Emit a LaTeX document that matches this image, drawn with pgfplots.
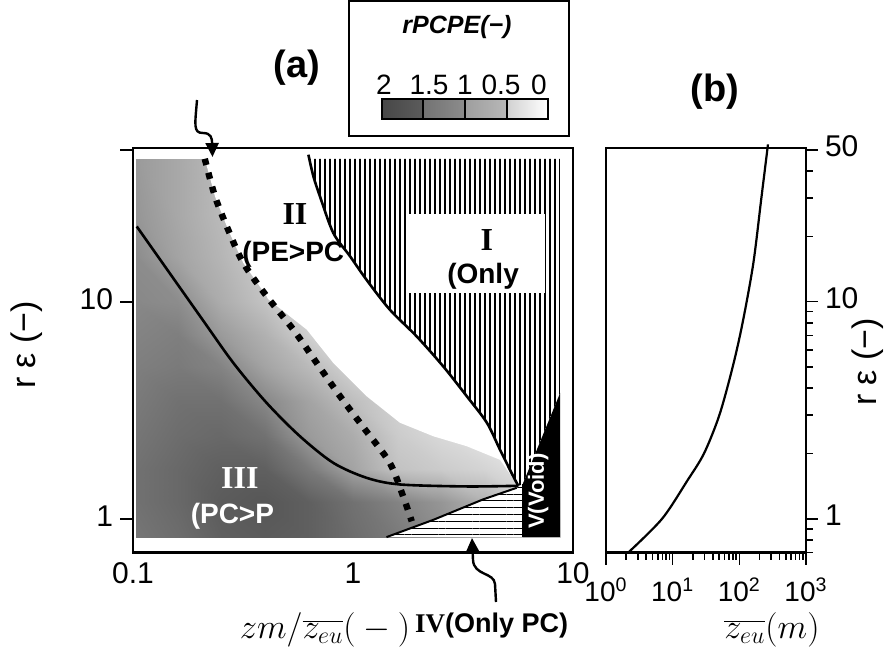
\documentclass[border=0pt]{standalone}
\usepackage{fontspec}
\setmainfont{Liberation Sans}
\newfontfamily\serifrm{Liberation Serif}
\usepackage{pgfplots}
\usepackage{pgfplotstable}
\pgfplotsset{compat=1.18}
\usetikzlibrary{patterns.meta,arrows.meta}

% rPCPE field (x, y, value)
\pgfplotstableread{
x y v
0.103 0.824 1.55
0.16 0.824 1.65
0.25 0.824 1.8
0.4 0.824 1.85
0.63 0.824 1.8
1 0.824 1.65
1.6 0.824 1.5
2.5 0.824 1.3
4 0.824 1.0
6 0.824 0.7
8.74 0.824 0.5
0.103 1.2 1.6
0.16 1.2 1.7
0.25 1.2 1.85
0.4 1.2 1.9
0.63 1.2 1.8
1 1.2 1.6
1.6 1.2 1.4
2.5 1.2 1.2
4 1.2 0.9
6 1.2 0.6
8.74 1.2 0.4
0.103 1.7 1.6
0.16 1.7 1.7
0.25 1.7 1.8
0.4 1.7 1.8
0.63 1.7 1.5
1 1.7 1.05
1.6 1.7 0.7
2.5 1.7 0.6
4 1.7 0.5
6 1.7 0.35
8.74 1.7 0.2
0.103 2.4 1.55
0.16 2.4 1.65
0.25 2.4 1.7
0.4 2.4 1.6
0.63 2.4 1.15
1 2.4 0.95
1.6 2.4 0.6
2.5 2.4 0.45
4 2.4 0.3
6 2.4 0.1
8.74 2.4 0
0.103 3.5 1.5
0.16 3.5 1.6
0.25 3.5 1.6
0.4 3.5 1.35
0.63 3.5 1.05
1 3.5 0.75
1.6 3.5 0.5
2.5 3.5 0.3
4 3.5 0.1
6 3.5 0
8.74 3.5 0
0.103 5 1.45
0.16 5 1.5
0.25 5 1.4
0.4 5 1.05
0.63 5 0.8
1 5 0.5
1.6 5 0.3
2.5 5 0
4 5 0
6 5 0
8.74 5 0
0.103 7 1.4
0.16 7 1.45
0.25 7 1.15
0.4 7 0.9
0.63 7 0.55
1 7 0.3
1.6 7 0
2.5 7 0
4 7 0
6 7 0
8.74 7 0
0.103 10 1.35
0.16 10 1.3
0.25 10 0.95
0.4 10 0.7
0.63 10 0.5
1 10 0.3
1.6 10 0
2.5 10 0
4 10 0
6 10 0
8.74 10 0
0.103 16 1.3
0.16 16 1.05
0.25 16 0.85
0.4 16 0.6
0.63 16 0.4
1 16 0.2
1.6 16 0
2.5 16 0
4 16 0
6 16 0
8.74 16 0
0.103 25 1.2
0.16 25 1.0
0.25 25 0.8
0.4 25 0.6
0.63 25 0.4
1 25 0.2
1.6 25 0
2.5 25 0
4 25 0
6 25 0
8.74 25 0
0.103 45.5 1.15
0.16 45.5 1.0
0.25 45.5 0.8
0.4 45.5 0.6
0.63 45.5 0.4
1 45.5 0.2
1.6 45.5 0
2.5 45.5 0
4 45.5 0
6 45.5 0
8.74 45.5 0
}\fieldtbl

\newcommand\lab{\bfseries\fontsize{14}{14}\selectfont}
\newcommand\romlab{\serifrm\bfseries\fontsize{16}{16}\selectfont}

\begin{document}
\begin{tikzpicture}
\path[use as bounding box] (0,0) rectangle (444pt,-332pt);

% ---------- panel (a) ----------
\begin{axis}[
    at={(66.5pt,-276.25pt)}, anchor=south west, scale only axis,
    width=220pt, height=202.25pt,
    xmode=log, ymode=log,
    xmin=0.1, xmax=10, ymin=0.70, ymax=51,
    xminorticks=false, yminorticks=false,
    xtick={0.1,1,10}, xticklabels={0.1,1,10},
    ytick={1,10,50}, yticklabels={1,10,{}},
    tick pos=left, tick align=outside,
    major tick length=6.5pt,
    xtick style={draw=none},
    ytick style={line width=1pt, black},
    axis line style={line width=1.1pt},
    tick label style={font=\fontsize{15}{15}\selectfont},
    xticklabel style={yshift=5pt},
    yticklabel style={yshift=1.5pt},
    colormap={rp}{rgb255=(255,255,255) rgb255=(212,212,212) rgb255=(168,168,168) rgb255=(122,122,122) rgb255=(78,78,78)},
    point meta min=0, point meta max=2,
    axis on top,
]
\addplot[surf, shader=interp, mesh/cols=11, point meta=explicit]
    table[x=x, y=y, meta=v] \fieldtbl;

% region II, white part
\addplot[draw=none, fill=white] coordinates {
    (0.212,45.5) (0.236,30.5) (0.271,21.4) (0.317,15.1) (0.405,10.6) (0.41,10.3)
    (0.617,7.43) (0.814,5.22) (1.153,3.67) (1.635,2.77) (2.32,2.40) (3.29,2.16)
    (4.66,1.87) (5.64,1.42) (5.35,1.57) (4.66,2.08) (4.06,2.77) (3.29,3.67)
    (2.57,5.04) (1.948,6.92) (1.47,9.19) (1.153,12.6) (0.969,16.2) (0.814,20.7)
    (0.708,30.5) (0.661,37.7) (0.633,45.5)
};
% region I (only PE), vertical hatching
\addplot[draw=none, fill=white,
    postaction={pattern={Lines[angle=90,distance=2.5pt,line width=0.6pt]}}] coordinates {
    (0.633,45.5) (0.661,37.7) (0.708,30.5) (0.814,20.7) (0.969,16.2) (1.153,12.6)
    (1.47,9.19) (1.948,6.92) (2.57,5.04) (3.29,3.67) (4.06,2.77) (4.66,2.08)
    (5.35,1.57) (5.64,1.42) (5.9,1.44) (8.74,3.8) (8.74,45.5)
};
% region IV (only PC), horizontal hatching
\addplot[draw=none, fill=white,
    postaction={pattern={Lines[angle=0,distance=3.4pt,line width=0.5pt]}}] coordinates {
    (1.42,0.824) (2.32,0.99) (3.91,1.23) (5.55,1.39) (5.9,1.44) (5.9,0.824)
};
% region V (void)
\addplot[draw=none, fill=black] coordinates {
    (5.9,1.44) (8.74,3.8) (8.74,0.824) (5.9,0.824)
};
% label box in region I
\addplot[draw=none, fill=white] coordinates {
    (1.75,10.96) (7.46,10.96) (7.46,25.2) (1.75,25.2)
};

% boundaries
\addplot[line width=1pt] coordinates {(1.42,0.824) (2.32,0.99) (3.91,1.23) (5.55,1.39)};
\addplot[line width=1pt] coordinates {(5.9,0.824) (5.9,1.44)};
\addplot[line width=1.3pt, smooth] coordinates {
    (0.104,22.2) (0.202,8.56) (0.286,5.22) (0.405,3.42) (0.574,2.40) (0.814,1.81)
    (1.153,1.545) (1.635,1.44) (3.29,1.41) (5.64,1.42)
};
\addplot[line width=1.3pt, smooth] coordinates {
    (0.627,47.5) (0.661,37.7) (0.708,30.5) (0.814,20.7) (0.969,16.2) (1.153,12.6)
    (1.47,9.19) (1.948,6.92) (2.57,5.04) (3.29,3.67) (4.06,2.77) (4.66,2.08)
    (5.35,1.57) (5.64,1.42)
};
\addplot[line width=3.2pt, smooth, dash pattern=on 3.2pt off 4pt] coordinates {
    (0.212,45.5) (0.236,30.5) (0.271,21.4) (0.317,15.1) (0.405,10.6) (0.536,7.43)
    (0.684,5.22) (0.873,3.67) (1.134,2.58) (1.47,1.81) (1.69,1.27) (1.85,0.975)
};

\node[font=\romlab] at (axis cs:0.545,25.2) {II};
\node[font=\lab] at (axis cs:0.535,16.5) {(PE>PC};
\node[font=\romlab] at (axis cs:4.06,19.3) {I};
\node[font=\lab] at (axis cs:3.9,13.1) {(Only};
\node[font=\romlab, white] at (axis cs:0.306,1.545) {III};
\node[font=\lab, white] at (axis cs:0.283,1.03) {(PC>P};
\node[font=\bfseries\fontsize{11}{11}\selectfont, white, rotate=90] at (axis cs:6.95,1.34) {V(Void)};
\end{axis}

% ---------- panel (b) ----------
\begin{axis}[
    at={(303pt,-276.25pt)}, anchor=south west, scale only axis,
    width=100pt, height=202.25pt,
    xmode=log, ymode=log,
    xmin=1, xmax=1000, ymin=0.70, ymax=51,
    xtick={1,10,100,1000},
    xticklabels={10\textsuperscript{0},10\textsuperscript{1},10\textsuperscript{2},10\textsuperscript{3}},
    minor xtick={2,3,...,9,20,30,...,90,200,300,...,900},
    ytick={1,10,50}, yticklabels={1,10,50},
    minor ytick={0.7,0.8,0.9,2,3,...,9,20,30,40},
    xtick pos=left, ytick pos=right, yticklabel pos=right,
    tick align=outside,
    major tick length=6pt, minor tick length=3.5pt,
    tick style={line width=0.8pt, black},
    axis line style={line width=1.1pt},
    tick label style={font=\fontsize{15}{15}\selectfont},
    xticklabel style={font=\fontsize{14}{14}\selectfont, yshift=-3pt},
    yticklabel style={yshift=2pt},
    clip=false,
]
\addplot[line width=1.1pt, smooth] coordinates {
    (2.16,0.70) (6.92,1) (16.6,1.5) (29.5,2) (50.1,3) (79.4,5)
    (112,8) (162,15) (214,30) (269,53)
};
\end{axis}

% ---------- titles, labels, colour key, arrows ----------
\begin{scope}[x=0.5pt, y=-0.5pt]
\node[font=\bfseries\fontsize{19}{19}\selectfont] at (297,68) {(a)};
\node[font=\bfseries\fontsize{19}{19}\selectfont] at (715,92) {(b)};

\draw[line width=1pt] (349,1) rectangle (569,136);
\node[font=\bfseries\itshape\fontsize{12.5}{12.5}\selectfont] at (457,27) {rPCPE(−)};
\begin{scope}[font=\fontsize{14}{14}\selectfont]
\node at (384,85) {2};
\node at (429,85) {1.5};
\node at (465,85) {1};
\node at (501,85) {0.5};
\node at (539,85) {0};
\end{scope}
\shade[left color=black!72, right color=black!64] (382,99) rectangle (423,119);
\shade[left color=black!55, right color=black!45] (423,99) rectangle (465,119);
\shade[left color=black!38, right color=black!28] (465,99) rectangle (507,119);
\shade[left color=black!18, right color=white] (507,99) rectangle (548,119);
\draw[line width=0.9pt] (382,99) rectangle (548,119)
    (423,99) -- (423,119) (465,99) -- (465,119) (507,99) -- (507,119);

\node[rotate=90, font=\fontsize{17}{17}\selectfont] at (27,345) {r ε (−)};
\node[rotate=90, font=\fontsize{17}{17}\selectfont] at (868,362) {r ε (−)};

\node[font=\fontsize{17}{17}\selectfont] at (325,630) {$zm\big/\overline{z_{eu}}\Big(-\Big)$};
\node[anchor=west, font=\bfseries\fontsize{13.5}{13.5}\selectfont] at (408,626) {{\serifrm IV}(Only PC)};
\node[font=\fontsize{17}{17}\selectfont] at (772,630) {$\overline{z_{eu}}\Big(m\Big)$};

\draw[line width=1.2pt, -{Triangle[length=7pt,width=6.5pt]}]
    (197,100) .. controls (195,125) and (193,133) .. (203,133)
    .. controls (211,133) and (212,138) .. (212.5,157);
\draw[line width=1.2pt, -{Triangle[length=7pt,width=6.5pt]}]
    (496,602) -- (495,584) .. controls (494,572) and (474,576) .. (473,560) -- (472,538);
\end{scope}
\end{tikzpicture}
\end{document}
